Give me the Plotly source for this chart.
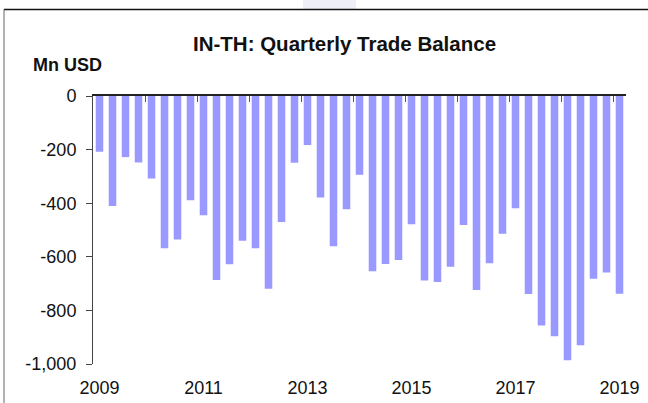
import plotly.graph_objects as go

# Quarterly trade balance, Mn USD, 2009Q1 - 2019Q1
quarters = [f"{y}Q{q}" for y in range(2009, 2019) for q in range(1, 5)] + ["2019Q1"]
balance = [
    -208, -410, -228, -248,
    -308, -568, -535, -389,
    -445, -687, -628, -540,
    -568, -719, -470, -249,
    -183, -379, -561, -423,
    -294, -654, -627, -612,
    -479, -688, -694, -637,
    -481, -724, -624, -514,
    -419, -739, -856, -896,
    -986, -930, -682, -659,
    -738,
]
year_labels = ["2009", "2011", "2013", "2015", "2017", "2019"]
y_ticks = [0, -200, -400, -600, -800, -1000]
y_tick_labels = ["0", "-200", "-400", "-600", "-800", "-1,000"]

W, H = 648, 403
L, R, T, B = 93, 22, 96, 39
PW, PH = W - L - R, H - T - B


def px_x(px):
    return (px - L) / PW


def px_y(py):
    return (H - B - py) / PH


FONT = "Liberation Sans, Arial, sans-serif"

fig = go.Figure()
fig.add_trace(go.Bar(
    x=quarters, y=balance,
    marker=dict(color="#9999FF", line=dict(width=0)),
    hoverinfo="x+y",
))

# year boundaries for the tick marks on the zero line
year_bounds = [i - 0.5 for i, q in enumerate(quarters) if q.endswith("Q1")]

fig.update_layout(
    width=W, height=H,
    margin=dict(l=L, r=R, t=T, b=B, pad=0, autoexpand=False),
    paper_bgcolor="white", plot_bgcolor="white",
    showlegend=False,
    bargap=0.42,
    font=dict(family=FONT, size=18, color="#111"),
    xaxis=dict(
        type="category", categoryorder="array", categoryarray=quarters,
        range=[-0.5, len(quarters) - 0.5],
        tickvals=[f"{y}Q1" for y in year_labels],
        ticktext=year_labels,
        ticks="", showline=False, showgrid=False, zeroline=False,
        automargin=False,
        ticklabelstandoff=11,
        tickfont=dict(family=FONT, size=18, color="#111"),
    ),
    xaxis2=dict(
        overlaying="x", side="top", type="linear",
        range=[-0.5, len(quarters) - 0.5],
        tickvals=year_bounds, showticklabels=False,
        ticks="inside", ticklen=6, tickwidth=1, tickcolor="#555",
        showline=True, linecolor="#222", linewidth=1.5,
        showgrid=False, zeroline=False, automargin=False,
    ),
    yaxis=dict(
        range=[-1000, 0],
        tickvals=y_ticks, ticktext=y_tick_labels,
        ticks="outside", ticklen=6, tickwidth=1, tickcolor="#444",
        showline=True, linecolor="#444", linewidth=1,
        showgrid=False, zeroline=False, automargin=False,
        ticklabelstandoff=6,
        tickfont=dict(family=FONT, size=18, color="#111"),
    ),
)

# invisible point so the top axis is drawn
fig.add_trace(go.Scatter(x=[year_bounds[0]], y=[0], xaxis="x2", mode="markers",
                         marker=dict(opacity=0), hoverinfo="skip"))

fig.add_annotation(
    text="<b>IN-TH: Quarterly Trade Balance</b>",
    xref="paper", yref="paper", x=px_x(344), y=px_y(43),
    xanchor="center", yanchor="middle", showarrow=False,
    font=dict(family=FONT, size=20.5, color="#111"),
)
fig.add_annotation(
    text="<b>Mn USD</b>",
    xref="paper", yref="paper", x=px_x(31), y=px_y(65),
    xanchor="left", yanchor="middle", showarrow=False,
    font=dict(family=FONT, size=18, color="#111"),
)

# faint logo patch above the frame
fig.add_shape(type="rect", xref="paper", yref="paper",
              x0=px_x(303), x1=px_x(356), y0=px_y(9), y1=px_y(0),
              fillcolor="#EFEFF8", line=dict(width=0), layer="below")
# chart frame: top and left edges
fig.add_shape(type="line", xref="paper", yref="paper",
              x0=px_x(4), x1=px_x(648), y0=px_y(9.5), y1=px_y(9.5),
              line=dict(color="#111", width=1.5))
fig.add_shape(type="line", xref="paper", yref="paper",
              x0=px_x(4), x1=px_x(4), y0=px_y(9.5), y1=px_y(403),
              line=dict(color="#666", width=1))

fig.write_html("out.html", config={"displayModeBar": False})
